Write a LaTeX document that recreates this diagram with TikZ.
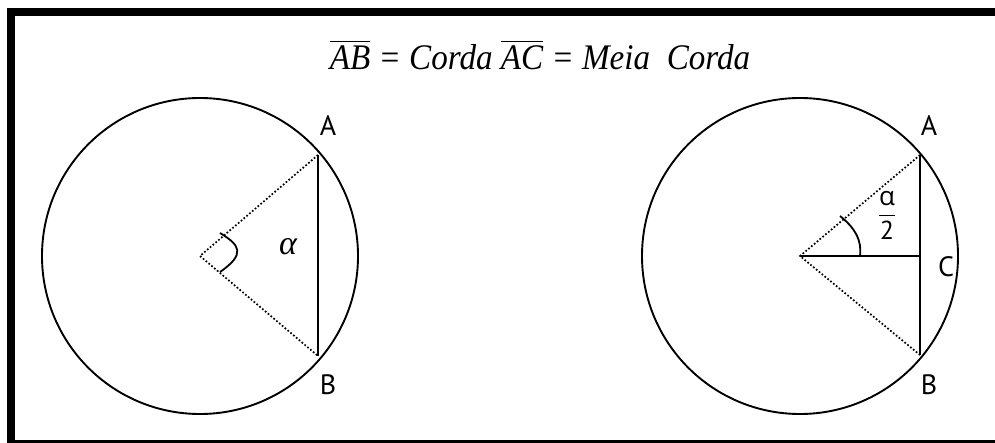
\documentclass[tikz,border=0pt]{standalone}
\usepackage{amsmath}
\usepackage{graphicx}
\usepackage{fontspec}
\setmainfont{PT Sans}
\newfontfamily\titlefont{Liberation Serif}
\newfontfamily\greekfont{Open Sans}
\usetikzlibrary{calc}

\begin{document}
\begin{tikzpicture}[x=1pt,y=-1pt,
   rim/.style={line width=1.9pt},
   radiusline/.style={line width=1.7pt,dotted},
   chord/.style={line width=1.9pt},
   anglemark/.style={line width=1.8pt},
   lbl/.style={font=\fontsize{28}{30}\selectfont,inner sep=0pt}]
\useasboundingbox (0,0) rectangle (995,442);
\clip (0,0) rectangle (995,442);
% frame, cut at the right and bottom
\draw[line width=8pt] (10.5,12) rectangle (1010,443.5);
\node[inner sep=0pt] (title) at (540,55)
   {\titlefont\itshape\fontsize{36}{38}\selectfont\scalebox{0.92}[1]{$\overline{\textit{AB}}$ = Corda $\overline{\textit{AC}}$ = Meia\ \ Corda}};
% left circle: chord AB
\coordinate (O1) at (200,256);
\coordinate (A1) at (318,155);
\coordinate (B1) at (318,356);
\draw[rim] (O1) circle (158);
\draw[radiusline] (A1) -- (O1) -- (B1);
\draw[chord] (A1) -- (B1);
\draw[anglemark] (220,233) .. controls (240,245) and (246,254) .. (220,272);
\node[lbl] (alpha1) at (288,247) {\titlefont\itshape\fontsize{34}{36}\selectfont α};
\node[lbl] (labA1) at (328,126) {A};
\node[lbl] (labB1) at (328,385) {B};
% right circle: half chord AC
\coordinate (O2) at (800,256);
\coordinate (A2) at (920,155);
\coordinate (B2) at (920,355);
\coordinate (C2) at (920,256);
\draw[rim] (O2) circle (158);
\draw[radiusline] (A2) -- (O2) -- (B2);
\draw[chord] (A2) -- (B2);
\draw[chord] (O2) -- (C2);
\draw[anglemark] (840,216) .. controls (855,228) and (862,240) .. (860,256);
\node[lbl] (half) at (887,215)
   {\fontsize{26}{28}\selectfont$\dfrac{\text{\greekfont α}}{\text{2}}$};
\node[lbl] (labA2) at (929,126) {A};
\node[lbl] (labC2) at (946,267) {C};
\node[lbl] (labB2) at (929,385) {B};
\end{tikzpicture}
\end{document}
